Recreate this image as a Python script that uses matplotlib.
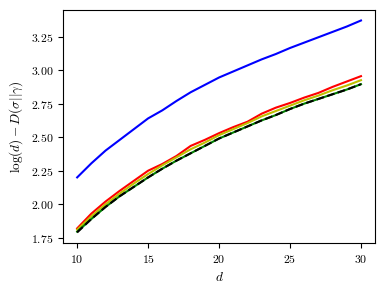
import matplotlib
matplotlib.use("Agg")
import matplotlib.pyplot as plt
from matplotlib.ticker import FuncFormatter

plt.rcParams['mathtext.fontset'] = 'cm'
plt.rcParams['font.family'] = 'DejaVu Serif'
plt.rcParams['font.size'] = 8.5

d = list(range(10, 31))
blue = [2.20, 2.305, 2.40, 2.48, 2.56, 2.64, 2.70, 2.77, 2.835, 2.89, 2.945,
        2.99, 3.035, 3.08, 3.12, 3.165, 3.205, 3.245, 3.285, 3.325, 3.37]
red = [1.82, 1.93, 2.02, 2.10, 2.175, 2.25, 2.30, 2.36, 2.435, 2.48, 2.53,
       2.575, 2.615, 2.675, 2.72, 2.755, 2.795, 2.83, 2.875, 2.915, 2.955]
yellow = [1.81, 1.91, 2.00, 2.08, 2.155, 2.225, 2.29, 2.35, 2.41, 2.46, 2.515,
          2.56, 2.605, 2.655, 2.695, 2.735, 2.775, 2.81, 2.85, 2.885, 2.925]
green = [1.795, 1.89, 1.98, 2.06, 2.13, 2.20, 2.265, 2.325, 2.38, 2.435, 2.49,
         2.535, 2.58, 2.625, 2.665, 2.71, 2.75, 2.785, 2.82, 2.855, 2.895]
black = [1.79, 1.89, 1.98, 2.06, 2.13, 2.20, 2.265, 2.325, 2.38, 2.435, 2.49,
         2.535, 2.58, 2.625, 2.665, 2.71, 2.75, 2.785, 2.82, 2.855, 2.895]

fig = plt.figure(figsize=(3.84, 2.91), dpi=100)
ax = fig.add_axes([0.164, 0.165, 0.813, 0.801])
ax.plot(d, blue, color='b', lw=1.5)
ax.plot(d, red, color='r', lw=1.5)
ax.plot(d, yellow, color='y', lw=1.5)
ax.plot(d, green, color='g', lw=1.5)
ax.plot(d, black, color='k', lw=1.5, ls='--')

ax.set_xticks([10, 15, 20, 25, 30])
ax.set_yticks([1.75, 2.00, 2.25, 2.50, 2.75, 3.00, 3.25])
ax.xaxis.set_major_formatter(FuncFormatter(lambda v, p: f'${v:.0f}$'))
ax.yaxis.set_major_formatter(FuncFormatter(lambda v, p: f'${v:.2f}$'))
ax.set_xlabel(r'$d$', fontsize=9.5)
ax.set_ylabel(r'$\log(d) - D(\sigma||\gamma)$', fontsize=9.5)

fig.savefig('out.png', dpi=100)
